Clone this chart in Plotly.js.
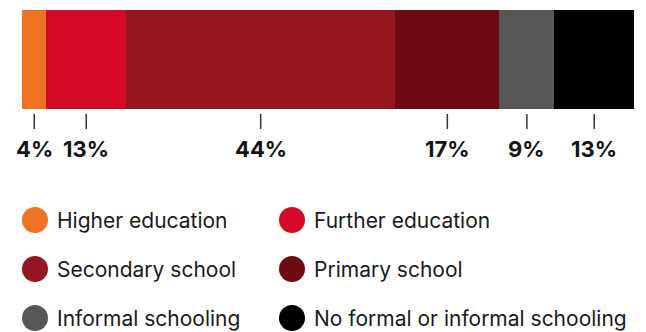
<!DOCTYPE html>
<html><head><meta charset="utf-8">
<script src="https://cdn.plot.ly/plotly-3.0.1.min.js"></script>
<style>html,body{margin:0;padding:0;background:#fff;}#chart{width:646px;height:332px;}</style>
</head><body><div id="chart"></div>
<script>
var categories = ["Higher education","Further education","Secondary school","Primary school","Informal schooling","No formal or informal schooling"];
var values = [4, 13, 44, 17, 9, 13];
var labels = ["4%","13%","44%","17%","9%","13%"];
var colors = ["#EE7222","#D20A26","#951520","#6E0A14","#575756","#000000"];

var W = 646, H = 332;
function py(px){ return 1 - px / H; }

var traces = categories.map(function(c, i){
  return {type:"bar", orientation:"h", name:c, x:[values[i]], y:[0],
    marker:{color:colors[i], line:{width:0}}, hoverinfo:"none", showlegend:false};
});

var shapes = [], annotations = [];
var cum = 0;
values.forEach(function(v, i){
  var mid = cum + v / 2; cum += v;
  shapes.push({type:"line", xref:"x", yref:"paper", x0:mid, x1:mid, y0:py(114), y1:py(129),
    line:{color:"#333333", width:1.5}});
  annotations.push({xref:"x", yref:"paper", x:mid, y:py(149), text:"<b>"+labels[i]+"</b>",
    showarrow:false, xanchor:"center", yanchor:"middle",
    font:{family:"Inter", size:22, color:"#141414"}});
});

// legend: 2 columns x 3 rows
var colX = [35, 292], rowY = [220, 269, 318], r = 13;
categories.forEach(function(c, i){
  var cx = colX[i % 2], cy = rowY[Math.floor(i / 2)];
  shapes.push({type:"circle", xref:"paper", yref:"paper",
    x0:(cx - r)/W, x1:(cx + r)/W, y0:py(cy + r), y1:py(cy - r),
    fillcolor:colors[i], line:{width:0}});
  annotations.push({xref:"paper", yref:"paper", x:(cx + 20)/W, y:py(cy), text:c,
    showarrow:false, xanchor:"left", yanchor:"middle",
    font:{family:"Inter", size:21, color:"#1a1a1a"}});
});

var layout = {
  width:W, height:H, margin:{l:0,r:0,t:0,b:0},
  paper_bgcolor:"#ffffff", plot_bgcolor:"#ffffff",
  barmode:"stack", bargap:0,
  xaxis:{range:[0,100], domain:[22/W, 634/W], visible:false, fixedrange:true},
  yaxis:{range:[-0.5,0.5], domain:[py(109), py(10)], visible:false, fixedrange:true},
  shapes:shapes, annotations:annotations, showlegend:false
};
Plotly.newPlot("chart", traces, layout, {displayModeBar:false, staticPlot:true});
</script></body></html>
